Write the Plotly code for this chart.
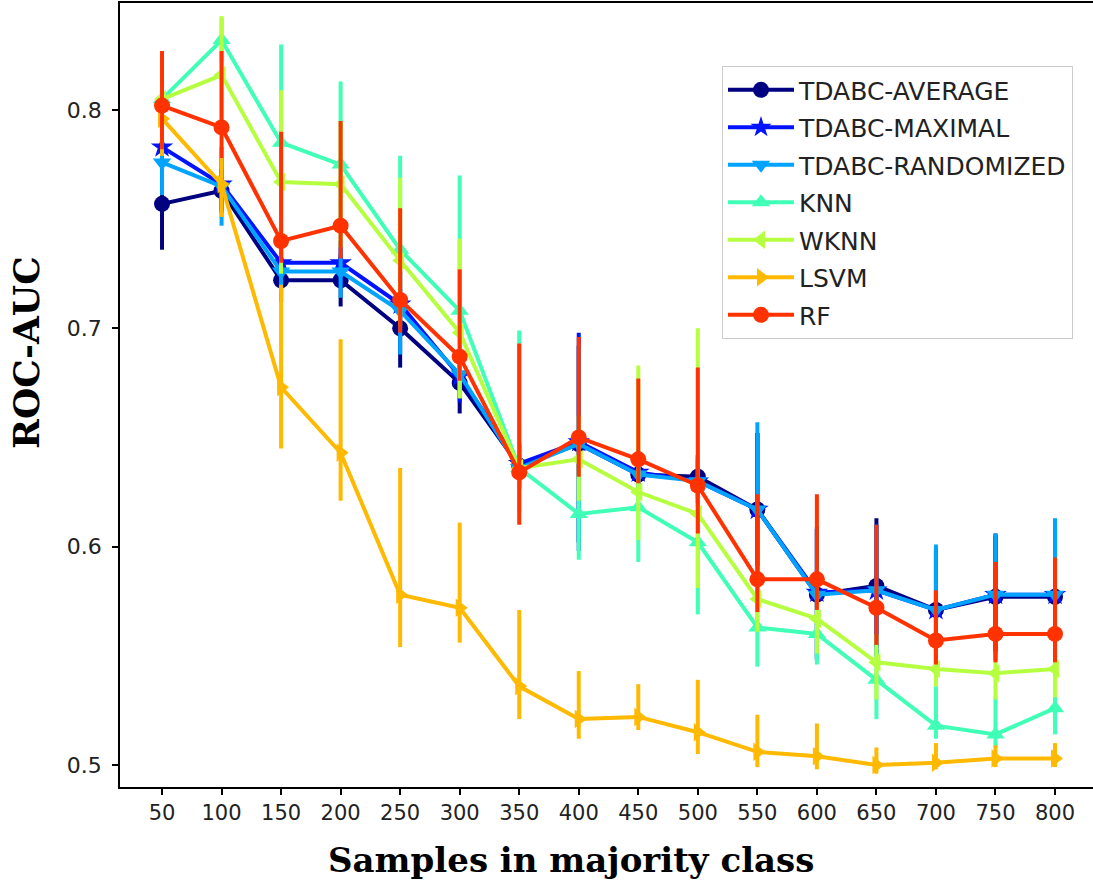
import plotly.graph_objects as go

samples = [50, 100, 150, 200, 250, 300, 350, 400, 450, 500, 550, 600, 650, 700, 750, 800]

avg = [0.757, 0.763, 0.722, 0.722, 0.700, 0.675, 0.637, 0.647, 0.633, 0.632, 0.617, 0.578, 0.582, 0.571, 0.577, 0.577]
avg_up = [0.020, 0.010, 0.010, 0.012, 0.018, 0.014, 0.010, 0.045, 0.010, 0.010, 0.035, 0.030, 0.031, 0.028, 0.029, 0.033]
avg_dn = [0.021, 0.010, 0.010, 0.012, 0.018, 0.014, 0.010, 0.045, 0.010, 0.010, 0.035, 0.030, 0.031, 0.028, 0.029, 0.033]

mx = [0.783, 0.766, 0.730, 0.730, 0.711, 0.678, 0.638, 0.648, 0.634, 0.630, 0.617, 0.579, 0.580, 0.571, 0.578, 0.578]
mx_up = [0.010, 0.012, 0.010, 0.010, 0.015, 0.012, 0.010, 0.050, 0.010, 0.010, 0.035, 0.030, 0.030, 0.027, 0.027, 0.030]
mx_dn = [0.010, 0.012, 0.010, 0.010, 0.015, 0.012, 0.010, 0.050, 0.010, 0.010, 0.035, 0.030, 0.030, 0.027, 0.027, 0.030]

rnd = [0.776, 0.765, 0.726, 0.726, 0.708, 0.679, 0.636, 0.647, 0.633, 0.630, 0.617, 0.578, 0.580, 0.571, 0.578, 0.578]
rnd_up = [0.015, 0.018, 0.010, 0.012, 0.020, 0.011, 0.010, 0.045, 0.010, 0.012, 0.040, 0.030, 0.030, 0.030, 0.028, 0.035]
rnd_dn = [0.015, 0.018, 0.010, 0.012, 0.020, 0.011, 0.010, 0.045, 0.010, 0.012, 0.040, 0.030, 0.030, 0.030, 0.028, 0.035]

knn = [0.805, 0.832, 0.785, 0.775, 0.736, 0.708, 0.636, 0.615, 0.618, 0.602, 0.563, 0.560, 0.539, 0.518, 0.514, 0.526]
knn_up = [0.020, 0.010, 0.045, 0.038, 0.043, 0.062, 0.063, 0.020, 0.020, 0.020, 0.020, 0.015, 0.015, 0.018, 0.017, 0.012]
knn_dn = [0.020, 0.010, 0.045, 0.038, 0.030, 0.040, 0.020, 0.021, 0.025, 0.033, 0.018, 0.014, 0.018, 0.006, 0.006, 0.012]

wknn = [0.805, 0.816, 0.767, 0.766, 0.731, 0.698, 0.636, 0.640, 0.625, 0.615, 0.576, 0.567, 0.547, 0.544, 0.542, 0.544]
wknn_up = [0.015, 0.027, 0.042, 0.029, 0.038, 0.043, 0.020, 0.020, 0.058, 0.085, 0.015, 0.016, 0.013, 0.010, 0.010, 0.010]
wknn_dn = [0.015, 0.027, 0.042, 0.029, 0.030, 0.030, 0.020, 0.019, 0.022, 0.034, 0.015, 0.016, 0.017, 0.008, 0.012, 0.013]

lsvm = [0.796, 0.766, 0.673, 0.643, 0.578, 0.572, 0.536, 0.521, 0.522, 0.515, 0.506, 0.504, 0.500, 0.501, 0.503, 0.503]
lsvm_up = [0.010, 0.015, 0.047, 0.052, 0.058, 0.039, 0.035, 0.022, 0.015, 0.024, 0.017, 0.015, 0.008, 0.009, 0.006, 0.007]
lsvm_dn = [0.017, 0.015, 0.028, 0.022, 0.024, 0.016, 0.015, 0.009, 0.006, 0.010, 0.007, 0.006, 0.004, 0.003, 0.004, 0.004]

rf = [0.802, 0.792, 0.740, 0.747, 0.713, 0.687, 0.634, 0.650, 0.640, 0.628, 0.585, 0.585, 0.572, 0.557, 0.560, 0.560]
rf_up = [0.025, 0.035, 0.050, 0.048, 0.042, 0.040, 0.059, 0.046, 0.037, 0.054, 0.039, 0.039, 0.038, 0.023, 0.033, 0.035]
rf_dn = [0.020, 0.014, 0.010, 0.015, 0.015, 0.011, 0.024, 0.018, 0.011, 0.022, 0.015, 0.014, 0.017, 0.011, 0.013, 0.013]

names = ["TDABC-AVERAGE", "TDABC-MAXIMAL", "TDABC-RANDOMIZED", "KNN", "WKNN", "LSVM", "RF"]
colors = ["#000080", "#0012ff", "#00a4ff", "#40ffb6", "#b6ff40", "#ffb900", "#ff3200"]
symbols = ["circle", "star", "triangle-down", "triangle-up", "triangle-left", "triangle-right", "circle"]
series = [(avg, avg_up, avg_dn), (mx, mx_up, mx_dn), (rnd, rnd_up, rnd_dn), (knn, knn_up, knn_dn),
          (wknn, wknn_up, wknn_dn), (lsvm, lsvm_up, lsvm_dn), (rf, rf_up, rf_dn)]

fig = go.Figure()
for i, (nm, col, sym, (vals, up, dn)) in enumerate(zip(names, colors, symbols, series)):
    fig.add_trace(go.Scatter(
        x=samples, y=vals, name=nm, mode="lines+markers",
        legendgroup=f"g{i}",
        line=dict(color=col, width=4),
        marker=dict(color=col, symbol=sym, size=16 if sym != "star" else 17, line=dict(width=0)),
        error_y=dict(type="data", symmetric=False, array=up, arrayminus=dn,
                     color=col, thickness=4, width=0),
    ))

L, R, T, B = 120, 0, 3, 95
fig.update_layout(
    width=1093, height=882,
    margin=dict(l=L, r=R, t=T, b=B),
    paper_bgcolor="white", plot_bgcolor="white",
    font=dict(family="DejaVu Sans", color="black"),
    showlegend=True,
    legend=dict(
        x=0.6187, y=0.9196, xanchor="left", yanchor="top",
        bgcolor="white", bordercolor="#cccccc", borderwidth=1,
        font=dict(family="DejaVu Sans", size=25, color="#222222"),
        tracegroupgap=2, traceorder="grouped",
        itemwidth=66,
    ),
    xaxis=dict(
        range=[14.7, 831.9], tickvals=samples, ticktext=[str(s) for s in samples],
        showline=True, linecolor="black", linewidth=1.5, mirror=True,
        ticks="outside", ticklen=6, tickwidth=1.5, tickcolor="black",
        tickfont=dict(family="DejaVu Sans", size=21, color="#222222"),
        showgrid=False, zeroline=False,
    ),
    yaxis=dict(
        range=[0.4899, 0.849], tickvals=[0.5, 0.6, 0.7, 0.8],
        ticktext=["0.5", "0.6", "0.7", "0.8"],
        showline=True, linecolor="black", linewidth=1.5, mirror=False,
        ticks="outside", ticklen=6, tickwidth=1.5, tickcolor="black",
        tickfont=dict(family="DejaVu Sans", size=22, color="#222222"),
        ticklabelstandoff=6,
        showgrid=False, zeroline=False,
    ),
    annotations=[
        dict(text="<b>Samples in majority class</b>", xref="paper", yref="paper",
             x=0.4635, y=-0.0931, xanchor="center", yanchor="middle", showarrow=False,
             font=dict(family="DejaVu Serif", size=34, color="black")),
        dict(text="<b>ROC-AUC</b>", xref="paper", yref="paper", textangle=-90,
             x=-0.0966, y=0.5536, xanchor="center", yanchor="middle", showarrow=False,
             font=dict(family="DejaVu Serif", size=36, color="black")),
    ],
)

fig.write_html("out.html")
